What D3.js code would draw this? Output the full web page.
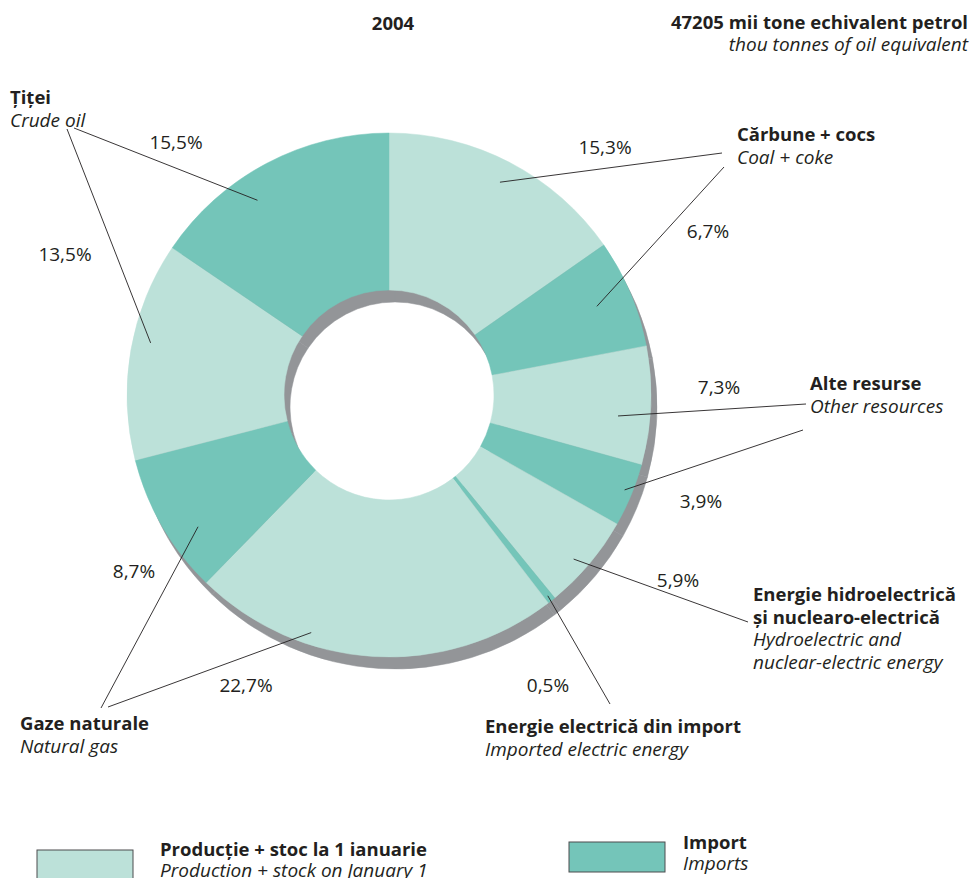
<!DOCTYPE html>
<html>
<head>
<meta charset="utf-8">
<script src="https://cdn.jsdelivr.net/npm/d3@7"></script>
<style>
  html, body { margin: 0; padding: 0; background: #fff; }
  svg { display: block; }
  text { font-family: "Open Sans", "Noto Sans", sans-serif; fill: #231f20; }
  .b { font-weight: 700; font-size: 18.5px; }
  .i { font-style: italic; font-size: 19px; }
  .p { font-size: 19px; }
</style>
</head>
<body>
<svg id="chart" width="974" height="878"></svg>
<script>
// Primary energy resources, 2004 (% of 47205 thousand toe), clockwise from 12 o'clock
const shares  = [15.3, 6.7, 7.3, 3.9, 5.9, 0.5, 22.7, 8.7, 13.5, 15.5];
const origin  = ["prod", "imp", "prod", "imp", "prod", "imp", "prod", "imp", "prod", "imp"];
const groupOf = [0, 0, 1, 1, 2, 3, 4, 4, 5, 5];

// resource groups: Romanian name lines, English name lines
const groupRo = [["Cărbune + cocs"], ["Alte resurse"], ["Energie hidroelectrică", "și nuclearo-electrică"],
                 ["Energie electrică din import"], ["Gaze naturale"], ["Țiței"]];
const groupEn = [["Coal + coke"], ["Other resources"], ["Hydroelectric and", "nuclear-electric energy"],
                 ["Imported electric energy"], ["Natural gas"], ["Crude oil"]];

const legendRo = ["Producție + stoc la 1 ianuarie", "Import"];
const legendEn = ["Production + stock on January 1", "Imports"];
const legendKeys = ["prod", "imp"];

const yearLabel = "2004";
const totalRo = "47205 mii tone echivalent petrol";
const totalEn = "thou tonnes of oil equivalent";

// ---- layout ----
const cx = 389, cy = 395, rOuter = 262, rInner = 105;
const shadowDx = 6, shadowDy = 12;
const colors = { prod: "#bce1d9", imp: "#74c5b9" };
const shadowColor = "#939598";

// group text anchors [x, baseline of first line]
const groupPos = [[737, 141], [810, 390], [753, 601], [485, 733], [20, 730], [10, 104]];
// percentage label centres [x, baseline]
const pctPos = [[605, 154], [708, 238], [719, 394], [701, 508], [678, 587],
                [548, 692], [246, 692], [134, 578], [65, 261], [176, 149]];
// leader lines: outer end, position inside slice (fraction of its angle) and radius
const leaderOut = [[722, 153], [724, 167], [806, 404], [803, 430], [748, 622],
                   [610, 704], [108, 707], [101, 708], [67, 129], [74, 128]];
const leaderT = [0.5, 0.49, 0.61, 0.46, 0.57, 0.5, 0.68, 0.355, 0.55, 0.39];
const leaderR = [240, 226, 230, 254, 247, 256, 250, 232, 244, 235];

const svg = d3.select("#chart");
const fmt = v => d3.format(".1f")(v).replace(".", ",") + "%";

const pie = d3.pie().sort(null).value(d => d)(shares);
const arc = d3.arc().innerRadius(rInner).outerRadius(rOuter);

// drop shadow: same ring shifted down-right
svg.append("g")
  .attr("transform", `translate(${cx + shadowDx},${cy + shadowDy})`)
  .selectAll("path").data(pie).join("path")
  .attr("d", arc)
  .attr("fill", shadowColor)
  .attr("stroke", shadowColor).attr("stroke-width", 0.5);

svg.append("g")
  .attr("transform", `translate(${cx},${cy})`)
  .selectAll("path").data(pie).join("path")
  .attr("d", arc)
  .attr("fill", (d, i) => colors[origin[i]])
  .attr("stroke", (d, i) => colors[origin[i]]).attr("stroke-width", 0.5);

// leader lines
const leaderAngle = (d, i) => d.startAngle + (d.endAngle - d.startAngle) * leaderT[i];
svg.append("g").selectAll("line").data(pie).join("line")
  .attr("x1", (d, i) => leaderOut[i][0])
  .attr("y1", (d, i) => leaderOut[i][1])
  .attr("x2", (d, i) => cx + leaderR[i] * Math.sin(leaderAngle(d, i)))
  .attr("y2", (d, i) => cy - leaderR[i] * Math.cos(leaderAngle(d, i)))
  .attr("stroke", "#231f20").attr("stroke-width", 0.9);

// percentage labels
svg.append("g").selectAll("text").data(shares).join("text")
  .attr("class", "p")
  .attr("x", (d, i) => pctPos[i][0])
  .attr("y", (d, i) => pctPos[i][1])
  .attr("text-anchor", "middle")
  .text(d => fmt(d));

// group names
groupRo.forEach((lines, g) => {
  const [x, y] = groupPos[g];
  const t = svg.append("g");
  lines.forEach((s, k) => t.append("text").attr("class", "b")
    .attr("x", x).attr("y", y + k * 23).text(s));
  groupEn[g].forEach((s, k) => t.append("text").attr("class", "i")
    .attr("x", x).attr("y", y + (lines.length + k) * 22.5).text(s));
});

// header
svg.append("text").attr("class", "b").attr("x", 393).attr("y", 30)
  .attr("text-anchor", "middle").text(yearLabel);
svg.append("text").attr("class", "b").attr("x", 968).attr("y", 29)
  .attr("text-anchor", "end").text(totalRo);
svg.append("text").attr("class", "i").attr("x", 968).attr("y", 51)
  .attr("text-anchor", "end").text(totalEn);

// legend
const legPos = [[37, 850, 160, 856], [569, 842, 683, 849]];
legendKeys.forEach((k, i) => {
  const [rx, ry, tx, ty] = legPos[i];
  svg.append("rect").attr("x", rx).attr("y", ry).attr("width", 96).attr("height", 30)
    .attr("fill", colors[k]).attr("stroke", "#4d4d4f").attr("stroke-width", 1);
  svg.append("text").attr("class", "b").attr("x", tx).attr("y", ty).text(legendRo[i]);
  svg.append("text").attr("class", "i").attr("x", tx).attr("y", ty + 20.5).text(legendEn[i]);
});
</script>
</body>
</html>
